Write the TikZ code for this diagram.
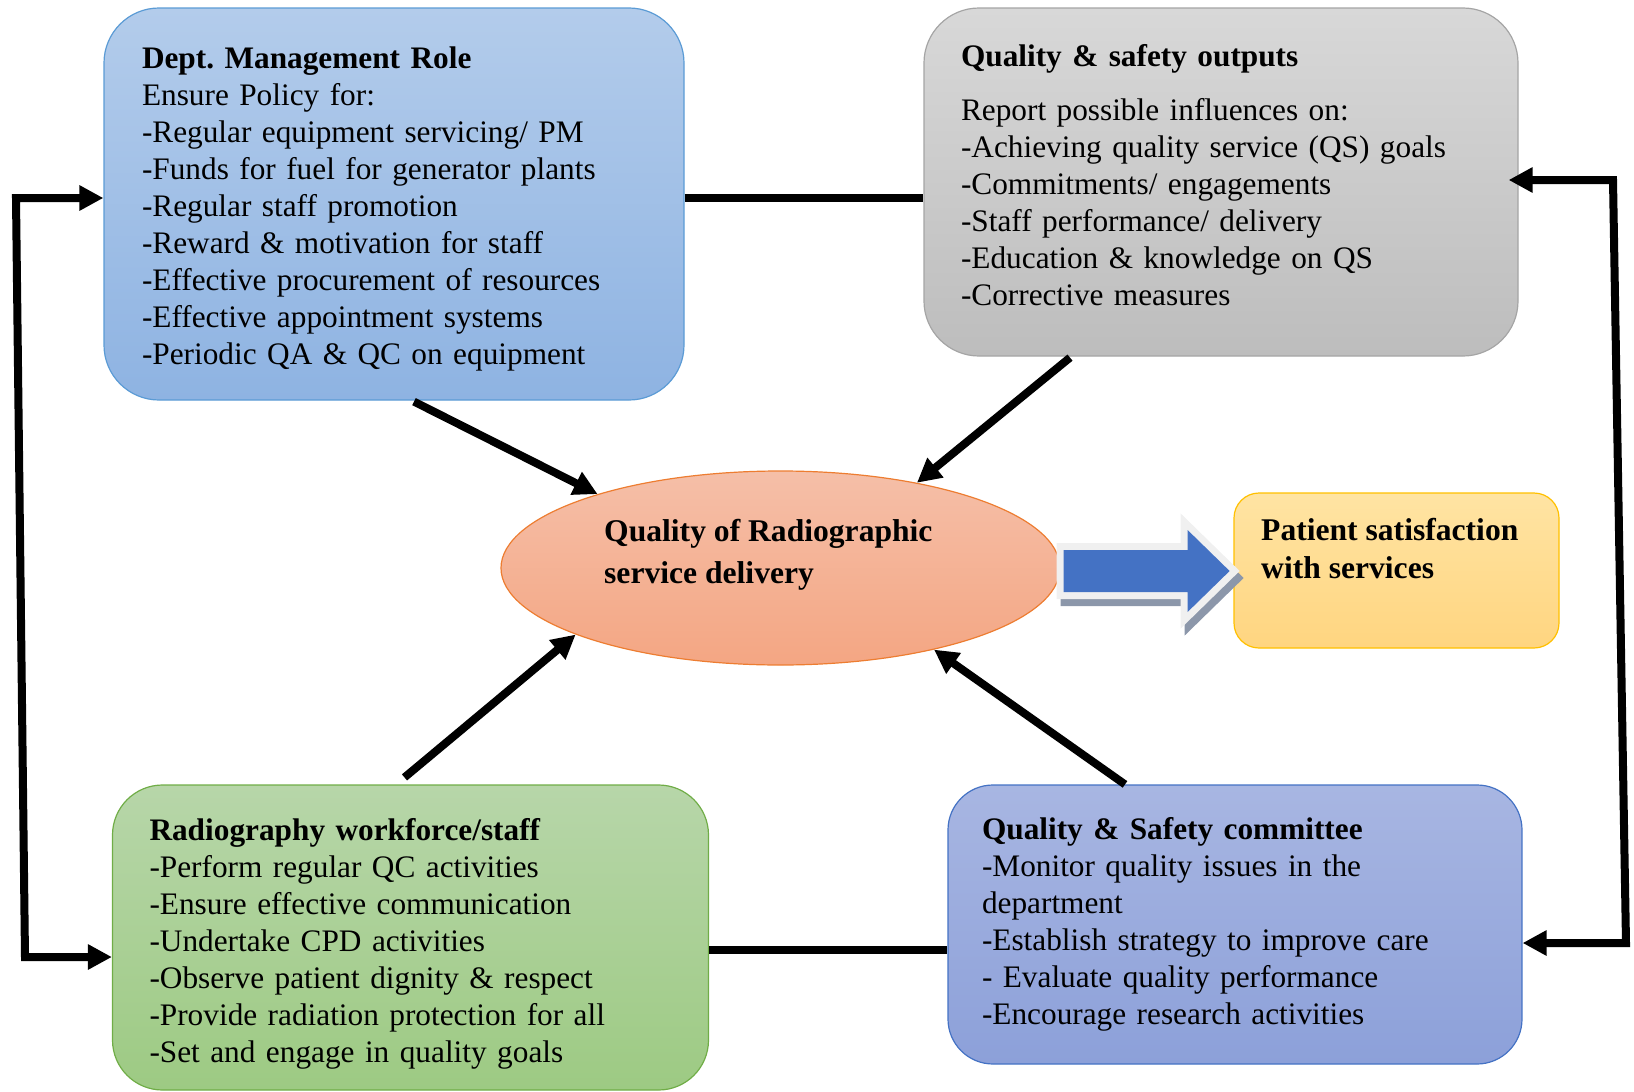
\documentclass[tikz,border=0pt]{standalone}
\usepackage{fontspec}
\setmainfont{Liberation Serif}
\usepackage{tikz}
\usetikzlibrary{positioning}
\usetikzlibrary{shapes.geometric}
\usetikzlibrary{arrows.meta}
\usetikzlibrary{calc}
\frenchspacing
\definecolor{deptTop}{HTML}{B3CCEB}
\definecolor{deptBot}{HTML}{8EB3E2}
\definecolor{deptLine}{HTML}{5B9BD5}
\definecolor{outTop}{HTML}{D8D8D8}
\definecolor{outBot}{HTML}{BDBDBD}
\definecolor{outLine}{HTML}{A5A5A5}
\definecolor{staffTop}{HTML}{B7D6A9}
\definecolor{staffBot}{HTML}{9DCA83}
\definecolor{staffLine}{HTML}{70AD47}
\definecolor{commTop}{HTML}{A8B6E2}
\definecolor{commBot}{HTML}{8CA0D9}
\definecolor{commLine}{HTML}{4472C4}
\definecolor{patTop}{HTML}{FFE4A3}
\definecolor{patBot}{HTML}{FFD580}
\definecolor{patLine}{HTML}{FFC000}
\definecolor{qrsTop}{HTML}{F5BFA8}
\definecolor{qrsBot}{HTML}{F4A683}
\definecolor{qrsLine}{HTML}{ED7D31}
\definecolor{blockBlue}{HTML}{4472C4}
\definecolor{blockFrame}{HTML}{F0F0F0}
\definecolor{blockShadow}{HTML}{8C97AA}

\begin{document}
\begin{tikzpicture}[x=1pt,y=-1pt]
        \tikzstyle{panel}=[draw, line width=1.2pt]
        \tikzstyle{panel text}=[align=left, inner sep=0pt, font=\fontsize{31.3}{37}\selectfont]
        \tikzstyle{flow arrow}=[line width=8pt, -{Triangle[length=24pt,width=24pt]}]
        \tikzstyle{loop arrow}=[line width=8pt, {Triangle[length=24pt,width=24pt]}-{Triangle[length=24pt,width=24pt]}]
        \tikzstyle{plain link}=[line width=8pt]
        \tikzstyle{bold text}=[align=left, inner sep=0pt]
        % Page
        \useasboundingbox (0,0) rectangle (1634,1092);

        % Four corner boxes
        \node[panel, rounded corners=55pt, top color=deptTop, bottom color=deptBot, draw=deptLine,
              minimum width=580pt, minimum height=392pt] (dept) at (394,204) {};
        \node[panel, rounded corners=55pt, top color=outTop, bottom color=outBot, draw=outLine,
              minimum width=594pt, minimum height=348pt] (qso) at (1221,182) {};
        \node[panel, rounded corners=50pt, top color=staffTop, bottom color=staffBot, draw=staffLine,
              minimum width=596pt, minimum height=305pt] (staff) at (410.5,937.5) {};
        \node[panel, rounded corners=45pt, top color=commTop, bottom color=commBot, draw=commLine,
              minimum width=574pt, minimum height=279pt] (comm) at (1235,924.5) {};

        % Box texts
        \node[panel text, text width=504pt] (dept text) at ($(dept)+(0,5)$)
            {\textbf{Dept. Management Role}\\
             Ensure Policy for:\\
             -Regular equipment servicing/ PM\\
             -Funds for fuel for generator plants\\
             -Regular staff promotion\\
             -Reward \& motivation for staff\\
             -Effective procurement of resources\\
             -Effective appointment systems\\
             -Periodic QA \& QC on equipment};
        \node[panel text, text width=520pt] (qso text) at ($(qso)+(0,-7)$)
            {\textbf{Quality \& safety outputs}\\[17pt]
             Report possible influences on:\\
             -Achieving quality service (QS) goals\\
             -Commitments/ engagements\\
             -Staff performance/ delivery\\
             -Education \& knowledge on QS\\
             -Corrective measures};
        \node[panel text, text width=522pt] (staff text) at ($(staff)+(0,6)$)
            {\textbf{Radiography workforce/staff}\\
             -Perform regular QC activities\\
             -Ensure effective communication\\
             -Undertake CPD activities\\
             -Observe patient dignity \& respect\\
             -Provide radiation protection for all\\
             -Set and engage in quality goals};
        \node[panel text, text width=506pt] (comm text) at (comm)
            {\textbf{Quality \& Safety committee}\\
             -Monitor quality issues in the\\
             department\\
             -Establish strategy to improve care\\
             - Evaluate quality performance\\
             -Encourage research activities};

        % Centre ellipse and outcome box
        \node[ellipse, draw=qrsLine, line width=1.2pt, top color=qrsTop, bottom color=qrsBot,
              minimum width=559pt, minimum height=194pt, inner sep=0pt] (qrs) at (780.5,568) {};
        \node[bold text, anchor=west, font=\bfseries\fontsize{31.6}{42}\selectfont] (qrs text) at (604,555)
            {Quality of Radiographic\\service delivery};
        \node[draw=patLine, line width=1.2pt, rounded corners=25pt, top color=patTop, bottom color=patBot,
              minimum width=325pt, minimum height=155pt] (pat) at (1396.5,570.5) {};
        \node[bold text, anchor=west, font=\bfseries\fontsize{31.6}{38.5}\selectfont] (pat text) at (1261,548.5)
            {Patient satisfaction\\with services};

        % Block arrow to outcome
        \coordinate (ba) at ($(qrs.east)+(3,3)$);
        \foreach \dx/\dy/\col in {4/7/blockShadow,0/0/blockFrame}
            \filldraw[\col, line width=14pt, line join=miter, shift={($(ba)+(\dx,\dy)$)}]
                (0,-21) -- (124,-21) -- (124,-41) -- (166,0) -- (124,41) -- (124,21) -- (0,21) -- cycle;
        \fill[blockBlue, shift={(ba)}]
            (0,-21) -- (124,-21) -- (124,-41) -- (166,0) -- (124,41) -- (124,21) -- (0,21) -- cycle;

        % Arrows into the ellipse
        \draw[flow arrow] ($(dept.south)+(20,1)$) -- (qrs.158.3);
        \draw[flow arrow] ($(qso.south)+(-151,1)$) -- (qrs.32.1);
        \draw[flow arrow] ($(staff.north)+(-6,-7)$) -- (qrs.198.6);
        \draw[flow arrow] ($(comm.north)+(-110,0)$) -- (qrs.332.9);

        % Side links between boxes
        \draw[plain link] (dept.east |- 0,198) -- (qso.west |- 0,198);
        \draw[plain link] (staff.east |- 0,950) -- (comm.west |- 0,950);

        % Outer feedback loops
        \coordinate (lt) at (16,198);
        \coordinate (lb) at (25,957);
        \draw[loop arrow] (dept.west |- lt) -- (lt) -- (lb) -- (staff.west |- lb);
        \coordinate (rt) at (1613,180);
        \coordinate (rb) at (1626,943);
        \draw[loop arrow] ($(qso.east |- rt)+(-10,0)$) -- (rt) -- (rb) -- (comm.east |- rb);
    \end{tikzpicture}
\end{document}
